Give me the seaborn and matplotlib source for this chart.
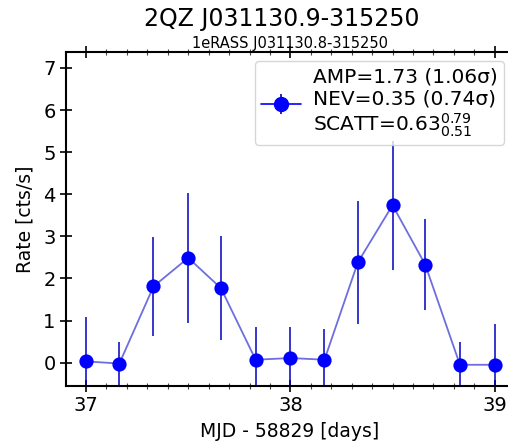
import numpy as np
import pandas as pd
import matplotlib
matplotlib.use("Agg")
import matplotlib.pyplot as plt
from matplotlib.ticker import MultipleLocator
import seaborn as sns

# Data
mjd = [37.0, 37.163, 37.33, 37.50, 37.66, 37.83, 38.0, 38.167, 38.33, 38.50, 38.66, 38.83, 39.0]
rate = [0.03, -0.02, 1.81, 2.49, 1.77, 0.07, 0.11, 0.07, 2.38, 3.74, 2.33, -0.05, -0.05]
rate_err = [1.05, 0.50, 1.18, 1.54, 1.24, 0.78, 0.74, 0.73, 1.47, 1.53, 1.08, 0.54, 0.98]
xticks = [37, 38, 39]
yticks = [0, 1, 2, 3, 4, 5, 6, 7]
legend_label = "AMP=1.73 (1.06σ)\nNEV=0.35 (0.74σ)\nSCATT=0.63$^{0.79}_{0.51}$"

df = pd.DataFrame({"mjd": mjd, "rate": rate, "err": rate_err})

sns.set_style("ticks")
plt.rcParams['font.family'] = ['DejaVu Sans']
plt.rcParams['text.color'] = 'black'
plt.rcParams['axes.labelcolor'] = 'black'
plt.rcParams['xtick.color'] = 'black'
plt.rcParams['ytick.color'] = 'black'

fig = plt.figure(figsize=(5.08, 4.44), dpi=100)
ax = fig.add_axes([0.130, 0.131, 0.880, 0.752])

ax.errorbar(df["mjd"], df["rate"], yerr=df["err"], fmt="none", ecolor="#0000c0", elinewidth=1.1, zorder=2)
sns.lineplot(data=df, x="mjd", y="rate", ax=ax, color="#2020d0", alpha=0.65, lw=1.3, zorder=3, estimator=None, sort=False)
sns.scatterplot(data=df, x="mjd", y="rate", ax=ax, color="#0000ff", s=105, edgecolor="#0000ff", linewidth=0, zorder=4)

# proxy errorbar handle for legend
h = ax.errorbar([np.nan], [np.nan], yerr=[np.nan], fmt="o-", color="#0000ff", ecolor="#0000c0", ms=10, lw=1.2, label=legend_label)
leg = ax.legend(handles=[h], labels=[legend_label], loc="upper right", fontsize=14.5, frameon=True,
                borderaxespad=0.45, handletextpad=0.6, labelspacing=0.1, borderpad=0.3)
leg.get_frame().set_alpha(0.8)

ax.set_xlim(36.902, 39.09)
ax.set_ylim(-0.55, 7.38)
ax.set_xticks(xticks)
ax.set_yticks(yticks)
ax.xaxis.set_minor_locator(MultipleLocator(0.1))
ax.tick_params(axis="both", which="major", direction="inout", length=8, width=1.2, labelsize=14, top=True, color="black")
ax.tick_params(axis="x", which="minor", direction="inout", length=4, width=0.8, top=True, color="#444444")
for s in ["left", "bottom", "top"]:
    ax.spines[s].set_linewidth(1.5)
    ax.spines[s].set_color("black")
ax.spines["right"].set_visible(False)

ax.set_xlabel("MJD - 58829 [days]", fontsize=13.5, labelpad=5)
ax.set_ylabel("Rate [cts/s]", fontsize=13.5, labelpad=6)
ax.set_title("1eRASS J031130.8-315250", fontsize=10.5, pad=3)
fig.text(0.555, 0.957, "2QZ J031130.9-315250", ha="center", va="center", fontsize=17)

fig.savefig("out.png", dpi=100)
